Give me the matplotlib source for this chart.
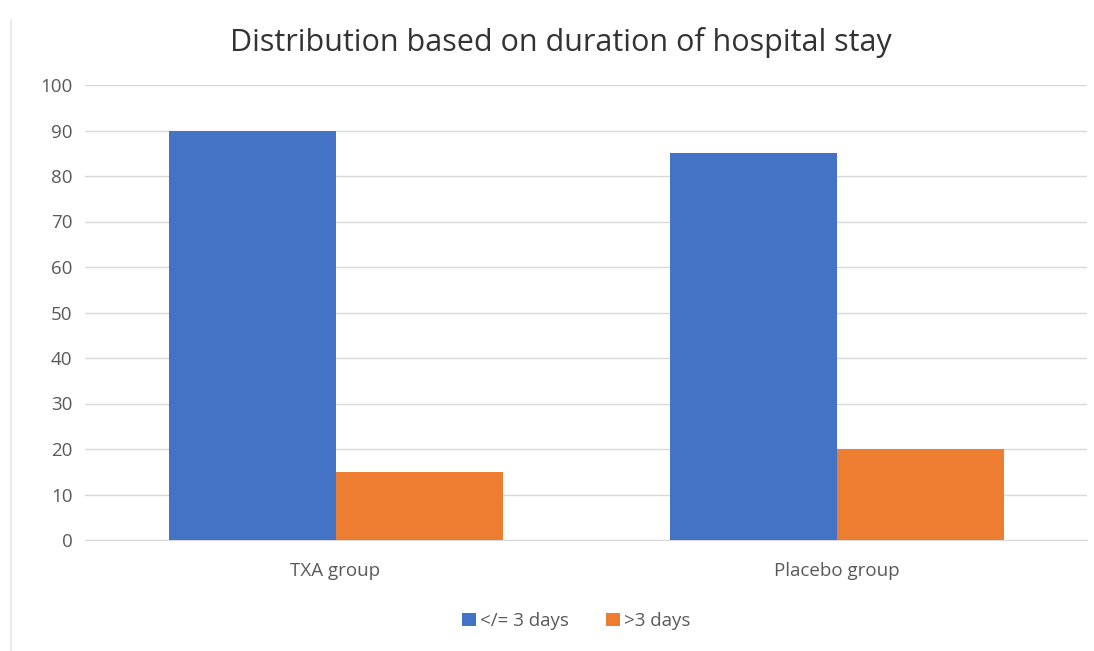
import matplotlib
matplotlib.use("Agg")
import matplotlib.pyplot as plt
import numpy as np
from matplotlib.patches import Patch
from matplotlib.lines import Line2D

categories = ["TXA group", "Placebo group"]
series_names = ["</= 3 days", ">3 days"]
short_stay = [90, 85]
long_stay = [15, 20]
y_ticks = [0, 10, 20, 30, 40, 50, 60, 70, 80, 90, 100]

blue = "#4472C4"
orange = "#ED7D31"
text_gray = "#595959"
grid_gray = "#D9D9D9"

plt.rcParams["font.family"] = ["Open Sans", "DejaVu Sans"]

fig = plt.figure(figsize=(10.94, 6.51), dpi=100)
ax = fig.add_axes([85 / 1094, 1 - 540 / 651, 1002 / 1094, 455 / 651])

x = np.arange(len(categories))
w = 1 / 3
ax.bar(x - w / 2, short_stay, width=w, color=blue, zorder=3, label=series_names[0])
ax.bar(x + w / 2, long_stay, width=w, color=orange, zorder=3, label=series_names[1])

ax.set_xlim(-0.5, len(categories) - 0.5)
ax.set_ylim(0, 100)
ax.set_yticks(y_ticks)
ax.set_yticklabels([str(t) for t in y_ticks])
ax.set_xticks(x)
ax.set_xticklabels(categories, fontsize=13.5)
ax.yaxis.grid(True, color=grid_gray, linewidth=1.0, zorder=0)
ax.set_axisbelow(True)
for s in ["top", "right", "left"]:
    ax.spines[s].set_visible(False)
ax.spines["bottom"].set_color(grid_gray)
ax.tick_params(axis="y", length=0, colors=text_gray, labelsize=13.5, pad=9)
ax.tick_params(axis="x", length=0, colors=text_gray, pad=16)

fig.text(561 / 1094, 1 - 43 / 651, "Distribution based on duration of hospital stay",
         ha="center", va="center", fontsize=22, color="#333333")

handles = [Patch(facecolor=blue), Patch(facecolor=orange)]
fig.legend(handles, series_names, loc="center", bbox_to_anchor=(576 / 1094, 1 - 621 / 651),
           ncol=2, frameon=False, fontsize=13.5, labelcolor=text_gray,
           handlelength=0.75, handleheight=0.75, handletextpad=0.2, columnspacing=2.0)

# thin border line at the left of the figure
fig.add_artist(Line2D([11 / 1094, 11 / 1094], [0, 1 - 20 / 651], transform=fig.transFigure,
                      color="#E6E6E6", linewidth=1.2))

fig.savefig("out.png", dpi=100)
